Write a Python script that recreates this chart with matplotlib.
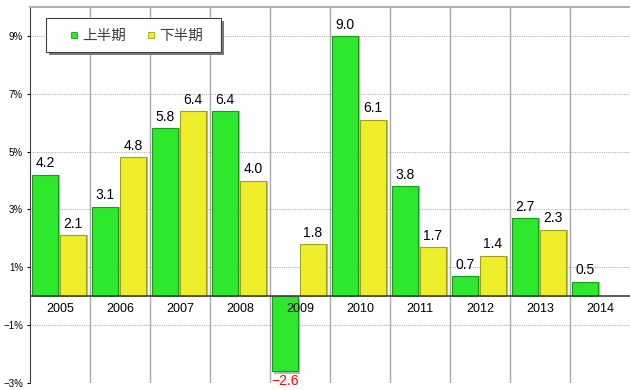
import matplotlib.pyplot as plt
from matplotlib.patches import Rectangle
import numpy as np

plt.rcParams['font.family'] = ['Liberation Sans', 'Noto Sans CJK JP', 'DejaVu Sans']

# datos
years = ['2005', '2006', '2007', '2008', '2009', '2010', '2011', '2012', '2013', '2014']
first_half = [4.2, 3.1, 5.8, 6.4, -2.6, 9.0, 3.8, 0.7, 2.7, 0.5]
second_half = [2.1, 4.8, 6.4, 4.0, 1.8, 6.1, 1.7, 1.4, 2.3, np.nan]
series_names = ['上半期', '下半期']
yticks = [9, 7, 5, 3, 1, -1, -3]

green = '#2ee82e'
yellow = '#eeee2a'
W, H = 630, 390

fig = plt.figure(figsize=(6.3, 3.9), dpi=100)
ax = fig.add_axes([30/W, 7/H, 600/W, 376/H])

x = np.arange(len(years))
ax.set_xlim(0, len(years))
ax.set_ylim(-3, 10)

# grid
for v in yticks:
    ax.axhline(v, color='#b4b4b4', lw=0.8, ls=(0, (1, 1)), zorder=0)
for i in range(1, len(years)):
    ax.axvline(i, color='#a8a8a8', lw=1.0, zorder=0)
ax.axhline(0, color='#404040', lw=1.2, zorder=3)

# sombras
dx = 0.035
dy = 0.08
gw = 0.44
yw = 0.43
for xi, v in zip(x, first_half):
    ax.bar(xi + 0.03 + dx, v, width=gw, bottom=-dy if v < 0 else 0, align='edge',
           color='#8a8a8a', alpha=0.6, zorder=1)
for xi, v in zip(x, second_half):
    if not np.isnan(v):
        ax.bar(xi + 0.5 + dx, v, width=yw, align='edge', color='#8a8a8a', alpha=0.6, zorder=1)

ax.bar(x + 0.03, first_half, width=gw, align='edge', color=green,
       edgecolor='#1a9a1a', lw=0.8, zorder=2)
ax.bar(x + 0.5, second_half, width=yw, align='edge', color=yellow,
       edgecolor='#a0a020', lw=0.8, zorder=2)

# valores
for xi, v in zip(x, first_half):
    if v >= 0:
        ax.text(xi + 0.03 + gw/2, v + 0.15, '%.1f' % v, ha='center', va='bottom', fontsize=10)
    else:
        ax.text(xi + 0.03 + gw/2, v - 0.1, '\u2212%.1f' % abs(v), ha='center', va='top',
                fontsize=10, color='red')
for xi, v in zip(x, second_half):
    if not np.isnan(v):
        ax.text(xi + 0.5 + yw/2, v + 0.15, '%.1f' % v, ha='center', va='bottom', fontsize=10)

# etiquetas de los años
for xi, yr in zip(x, years):
    ax.text(xi + 0.5, -0.25, yr, ha='center', va='top', fontsize=9, zorder=4)

ax.set_xticks([])
ax.set_yticks(yticks)
ax.set_yticklabels(['%d%%' % v if v >= 0 else '\u2212%d%%' % abs(v) for v in yticks], fontsize=7)
ax.tick_params(axis='y', length=2, pad=3)

ax.spines['top'].set_color('#b0b0b0')
ax.spines['top'].set_linewidth(1.5)
ax.spines['left'].set_color('#404040')
ax.spines['bottom'].set_visible(False)
ax.spines['right'].set_visible(False)

# leyenda (en pixeles de la figura)
def fx(px):
    return px / W


def fy(py):
    return 1 - py / H


lx0, lx1, ly0, ly1 = 46, 221, 18, 52
fig.patches.append(Rectangle((fx(lx0 + 3), fy(ly1 + 3)), fx(lx1 - lx0), (ly1 - ly0) / H,
                             transform=fig.transFigure, facecolor='#7a7a7a', edgecolor='none',
                             zorder=10))
fig.patches.append(Rectangle((fx(lx0), fy(ly1)), fx(lx1 - lx0), (ly1 - ly0) / H,
                             transform=fig.transFigure, facecolor='white', edgecolor='#404040',
                             lw=0.8, zorder=11))
yc = 35
for mx, tx, col, ec, name in [(74, 82, green, '#1a9a1a', series_names[0]),
                              (151, 159, yellow, '#a0a020', series_names[1])]:
    fig.patches.append(Rectangle((fx(mx - 3), fy(yc + 3)), fx(6), 6 / H,
                                 transform=fig.transFigure, facecolor=col, edgecolor=ec,
                                 lw=0.6, zorder=12))
    fig.text(fx(tx), fy(yc + 0.5), name, ha='left', va='center', fontsize=10.5,
             color='#404040', zorder=12)

plt.savefig('out.png', dpi=100)
